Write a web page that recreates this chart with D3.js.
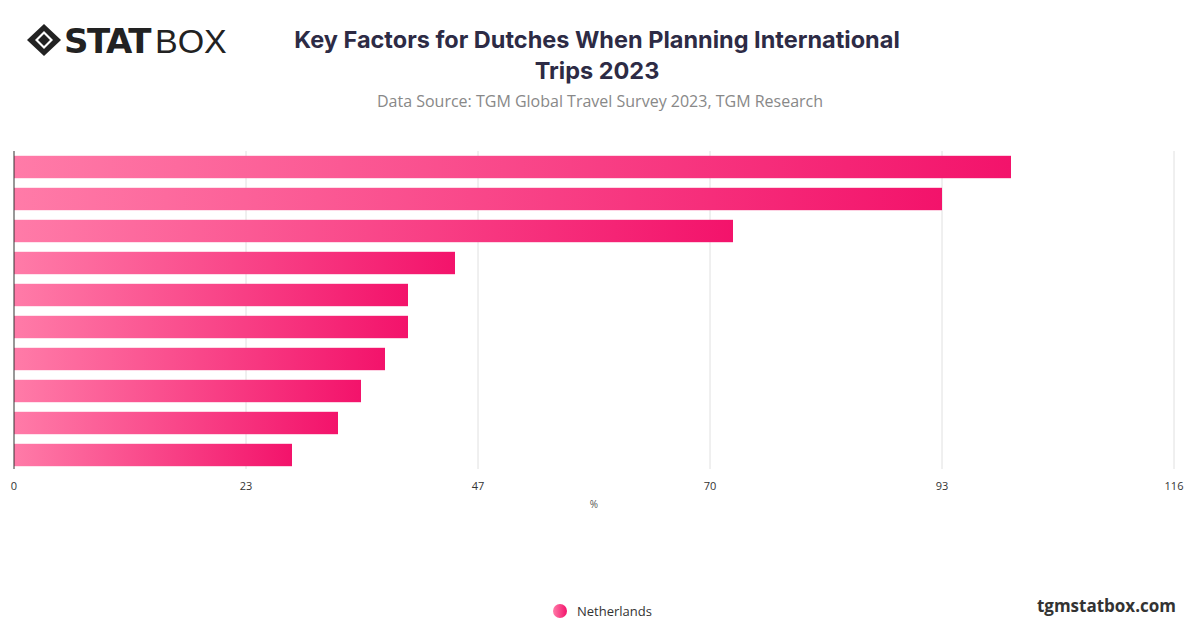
<!DOCTYPE html>
<html><head><meta charset="utf-8">
<script src="https://cdn.jsdelivr.net/npm/d3@7"></script>
<style>body{margin:0;background:#fff;font-family:"Open Sans",sans-serif}</style>
</head><body><svg id="c" width="1200" height="628"></svg>
<script>
const categories=["F1","F2","F3","F4","F5","F6","F7","F8","F9","F10"];
const values=[99.7,92.8,71.9,44.1,39.4,39.4,37.1,34.7,32.4,27.8];
const tickValues=[0,23.2,46.4,69.6,92.8,116];
const tickLabels=["0","23","47","70","93","116"];
const svg=d3.select("#c");
const x=d3.scaleLinear().domain([0,116]).range([14,1174]);
const y=d3.scaleBand().domain(categories).range([151,471]).paddingInner(0.3).paddingOuter(0.15);
const defs=svg.append("defs");
const g=defs.append("linearGradient").attr("id","gr").attr("x1","0").attr("x2","1");
g.append("stop").attr("offset","0").attr("stop-color","#ff7ba8");
g.append("stop").attr("offset","1").attr("stop-color","#f3136b");
svg.append("g").selectAll("line").data(tickValues.slice(1)).join("line")
 .attr("x1",d=>x(d)).attr("x2",d=>x(d)).attr("y1",151).attr("y2",469).attr("stroke","#e0e0e0");
svg.append("g").selectAll("rect").data(values).join("rect")
 .attr("x",x(0)).attr("y",(d,i)=>y(categories[i])).attr("height",y.bandwidth())
 .attr("width",d=>x(d)-x(0)).attr("fill","url(#gr)");
svg.append("line").attr("x1",14).attr("x2",14).attr("y1",151).attr("y2",469).attr("stroke","#333");
svg.append("g").selectAll("text").data(tickValues).join("text")
 .attr("x",d=>x(d)).attr("y",490).attr("text-anchor","middle").attr("font-size",11).attr("fill","#333")
 .text((d,i)=>tickLabels[i]);
svg.append("text").attr("x",594).attr("y",508).attr("text-anchor","middle").attr("font-size",10).attr("fill","#555").text("%");
svg.append("text").attr("x",597).attr("y",48).attr("text-anchor","middle").attr("font-size",23.5).attr("font-weight",700).attr("fill","#2d2b45").attr("font-family","Inter").text("Key Factors for Dutches When Planning International");
svg.append("text").attr("x",597).attr("y",79).attr("text-anchor","middle").attr("font-size",23.5).attr("font-weight",700).attr("fill","#2d2b45").attr("font-family","Inter").text("Trips 2023");
svg.append("text").attr("x",600).attr("y",107).attr("text-anchor","middle").attr("font-size",16).attr("fill","#888").text("Data Source: TGM Global Travel Survey 2023, TGM Research");
// logo
const lg=svg.append("g").attr("transform","translate(44,40)");
lg.append("path").attr("d","M0,-16 L17,0 L0,16 L-17,0Z").attr("fill","#222");
lg.append("path").attr("d","M0,-9 L9,0 L0,9 L-9,0Z").attr("fill","#fff");
lg.append("path").attr("d","M0,-6 L6,0 L0,6 L-6,0Z").attr("fill","#222");
svg.append("text").attr("x",64).attr("y",53).attr("font-size",34).attr("font-weight",900).attr("fill","#222").attr("font-family","DejaVu Sans").attr("letter-spacing",-1.5).text("STAT");
svg.append("text").attr("x",155).attr("y",53).attr("font-size",34).attr("fill","#222").attr("font-family","Liberation Sans").text("BOX");
// legend
svg.append("circle").attr("cx",560).attr("cy",611).attr("r",7).attr("fill","url(#gr)");
svg.append("text").attr("x",577).attr("y",616).attr("font-size",13).attr("fill","#333").text("Netherlands");
svg.append("text").attr("x",1176).attr("y",612).attr("text-anchor","end").attr("font-size",17).attr("font-weight",700).attr("fill","#333").text("tgmstatbox.com");
</script></body></html>
